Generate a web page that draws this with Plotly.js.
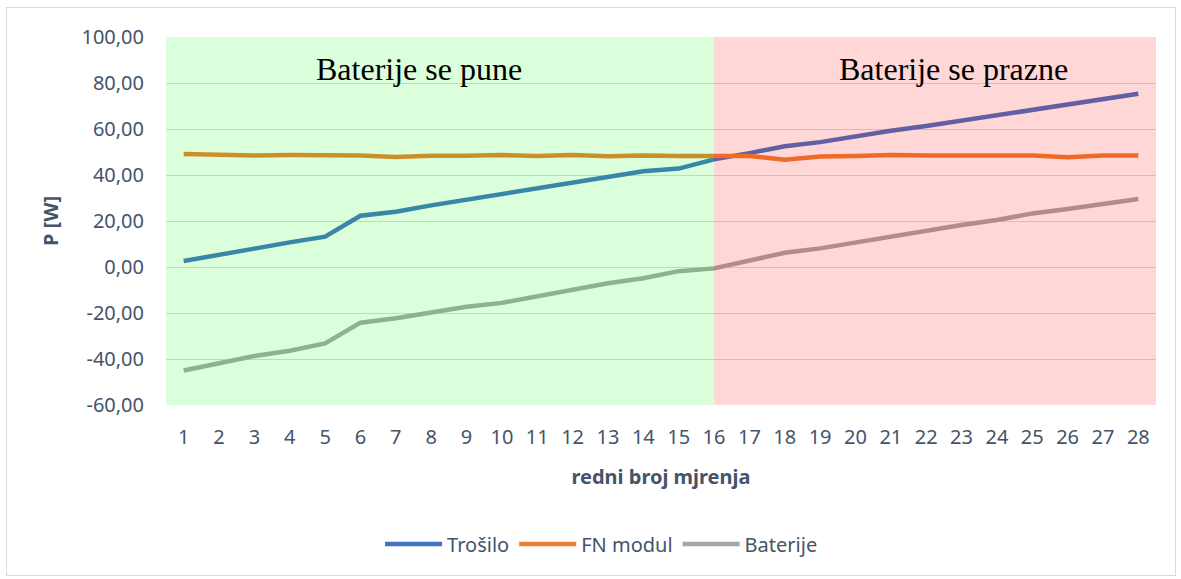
<!DOCTYPE html>
<html>
<head>
<meta charset="utf-8">
<script src="https://cdn.plot.ly/plotly-3.0.1.min.js"></script>
<style>
html,body{margin:0;padding:0;background:#fff;}
#wrap{position:relative;width:1181px;height:579px;}
#chart{width:1181px;height:579px;}
#frame{position:absolute;left:6px;top:7px;width:1168px;height:567px;border:1px solid #D9D9D9;pointer-events:none;}
</style>
</head>
<body>
<div id="wrap"><div id="chart"></div><div id="frame"></div></div>
<script>
const categories = [1,2,3,4,5,6,7,8,9,10,11,12,13,14,15,16,17,18,19,20,21,22,23,24,25,26,27,28];
const trosilo = [2.6,5.5,8.0,10.7,13.2,22.3,24.0,26.8,29.3,32.0,34.4,36.9,39.3,41.6,42.8,46.8,49.5,52.5,54.3,56.8,59.2,61.3,63.7,66.1,68.3,70.8,73.0,75.3];
const fnModul = [49.1,48.8,48.5,48.7,48.7,48.5,47.8,48.4,48.4,48.7,48.3,48.7,48.2,48.5,48.3,48.5,48.3,46.6,48.0,48.3,48.7,48.5,48.5,48.5,48.5,47.7,48.5,48.5];
const baterije = [-45.0,-41.9,-38.7,-36.4,-33.2,-24.2,-22.3,-19.8,-17.3,-15.6,-12.9,-10.0,-7.1,-4.9,-1.8,-0.6,2.7,6.2,8.1,10.7,12.9,15.6,18.3,20.4,23.3,25.2,27.4,29.6];
const seriesNames = ["Trošilo","FN modul","Baterije"];
const seriesColors = ["#4472C4","#ED7D31","#A5A5A5"];
const yTicks = [-60,-40,-20,0,20,40,60,80,100];
const yTickLabels = ["-60,00","-40,00","-20,00","0,00","20,00","40,00","60,00","80,00","100,00"];
const zoneSplit = 16;
const zoneLabels = ["Baterije se pune","Baterije se prazne"];

const textColor = "#44546A";
const data = [trosilo, fnModul, baterije].map((ys, i) => ({
  type: "scatter", mode: "lines", name: seriesNames[i],
  x: categories, y: ys,
  line: {color: seriesColors[i], width: 4.5}
}));

const xmin = categories[0] - 0.5, xmax = categories[categories.length-1] + 0.5;
const layout = {
  width: 1181, height: 579,
  margin: {l: 166, r: 25, t: 37, b: 174},
  paper_bgcolor: "#fff", plot_bgcolor: "#fff",
  font: {family: "Noto Sans, Open Sans, sans-serif", color: textColor},
  showlegend: true,
  legend: {orientation: "h", x: 0.44, xanchor: "center", y: -0.378, yanchor: "middle",
           font: {size: 20, color: textColor}, itemwidth: 57, tracegroupgap: 0},
  xaxis: {
    range: [xmin, xmax], tickmode: "array", tickvals: categories, ticktext: categories.map(String),
    showgrid: false, zeroline: false, showline: false, ticks: "",
    tickfont: {size: 20, color: textColor}, ticklabelstandoff: 18,
    title: {text: "redni broj mjrenja", font: {size: 20, color: textColor, weight: "bold"}, standoff: 20}
  },
  yaxis: {
    range: [-60, 100], tickmode: "array", tickvals: yTicks, ticktext: yTickLabels,
    showgrid: true, gridcolor: "#D9D9D9", gridwidth: 1, zeroline: false, showline: false, ticks: "",
    tickfont: {size: 20, color: textColor}, ticklabelstandoff: 21,
    title: {text: "P [W]", font: {size: 20, color: textColor, weight: "bold"}, standoff: 17}
  },
  shapes: [
    {type: "rect", layer: "above", xref: "x", yref: "y", x0: xmin, x1: zoneSplit, y0: -60, y1: 100,
     fillcolor: "rgba(0,255,0,0.145)", line: {width: 0}},
    {type: "rect", layer: "above", xref: "x", yref: "y", x0: zoneSplit, x1: xmax, y0: -60, y1: 100,
     fillcolor: "rgba(255,0,0,0.157)", line: {width: 0}}
  ],
  annotations: [
    {text: zoneLabels[0], xref: "paper", yref: "paper", x: 0.256, y: 0.912, xanchor: "center", yanchor: "middle", showarrow: false,
     font: {family: "Liberation Serif, Times New Roman, serif", size: 32, color: "#000"}},
    {text: zoneLabels[1], xref: "paper", yref: "paper", x: 0.795, y: 0.912, xanchor: "center", yanchor: "middle", showarrow: false,
     font: {family: "Liberation Serif, Times New Roman, serif", size: 32, color: "#000"}}
  ]
};
Plotly.newPlot("chart", data, layout, {displayModeBar: false, staticPlot: true});
</script>
</body>
</html>
